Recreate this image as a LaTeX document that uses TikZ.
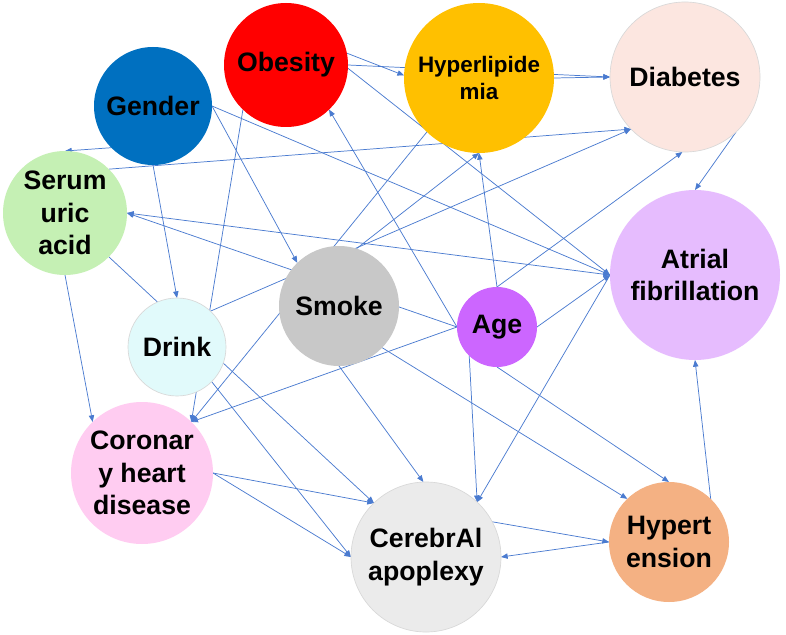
\documentclass[tikz,border=0pt]{standalone}
\usepackage{fontspec}
\setmainfont{Liberation Sans}
\usetikzlibrary{arrows.meta,backgrounds}
\definecolor{edgec}{HTML}{4A7BD0}
\definecolor{cObesity}{HTML}{FF0000}
\definecolor{cHyper}{HTML}{FFC000}
\definecolor{cDiab}{HTML}{FCE6E0}
\definecolor{cGender}{HTML}{0070C0}
\definecolor{cSerum}{HTML}{C5F0B4}
\definecolor{cAtrial}{HTML}{E6BCFE}
\definecolor{cSmoke}{HTML}{C8C8C8}
\definecolor{cAge}{HTML}{CC66FF}
\definecolor{cDrink}{HTML}{E1FAFB}
\definecolor{cCoronary}{HTML}{FFCCF1}
\definecolor{cCerebral}{HTML}{EBEBEB}
\definecolor{cHypert}{HTML}{F4B183}
\definecolor{rimc}{HTML}{D8D8D8}
\begin{document}
\begin{tikzpicture}[x=0.75pt,y=-0.75pt,
  ball/.style={circle,inner sep=0pt,outer sep=0pt,draw=none},
  rim/.style={draw=rimc,line width=0.5pt},
  lab/.style={align=center,text=black,inner sep=0pt,font=\bfseries\fontsize{20}{24.5}\selectfont},
  smalllab/.style={align=center,text=black,inner sep=0pt,font=\bfseries\fontsize{16.8}{20.5}\selectfont},
  arr/.style={draw=edgec,line width=0.55pt,-{Triangle[length=5pt,width=4pt]}},
  arrtwo/.style={draw=edgec,line width=0.55pt,{Triangle[length=5pt,width=4pt]}-{Triangle[length=5pt,width=4pt]}}
  ]
\useasboundingbox (0,0) rectangle (786,635);

% circles
\node[ball,fill=cObesity,minimum size=93pt] (obesity) at (286,65) {};
\node[ball,fill=cHyper,minimum size=112.5pt] (hyper) at (479,78) {};
\node[ball,fill=cDiab,rim,minimum size=112.5pt] (diab) at (685,77) {};
\node[ball,fill=cGender,minimum size=88.5pt] (gender) at (153,106) {};
\node[ball,fill=cSerum,minimum size=93pt] (serum) at (65,213) {};
\node[ball,fill=cAtrial,minimum size=127.5pt] (atrial) at (695,275) {};
\node[ball,fill=cSmoke,minimum size=90pt] (smoke) at (339,306) {};
\node[ball,fill=cAge,minimum size=60pt] (age) at (497,327) {};
\node[ball,fill=cDrink,rim,minimum size=73.5pt] (drink) at (177,347) {};
\node[ball,fill=cCoronary,minimum size=106.5pt] (coronary) at (142,473) {};
\node[ball,fill=cCerebral,rim,minimum size=112.5pt] (cerebral) at (426,557) {};
\node[ball,fill=cHypert,minimum size=90pt] (hypert) at (669,542) {};

% labels
\node[lab] (obesityT) at (obesity) {Obesity};
\node[smalllab] (hyperT) at (hyper) {Hyperlipide\\mia};
\node[lab] (diabT) at (diab) {Diabetes};
\node[lab] (genderT) at (gender) {Gender};
\node[lab] (serumT) at (serum) {Serum\\uric\\acid};
\node[lab] (atrialT) at (atrial) {Atrial\\fibrillation};
\node[lab] (smokeT) at (smoke) {Smoke};
\node[lab] (ageT) at (age) {Age};
\node[lab] (drinkT) at (drink) {Drink};
\node[lab] (coronaryT) at (coronary) {Coronar\\y heart\\disease};
\node[lab] (cerebralT) at (cerebral) {CerebrAl\\apoplexy};
\node[lab] (hypertT) at (hypert) {Hypert\\ension};

\begin{pgfonlayer}{background}
\fill[white] (0,0) rectangle (786,635);
\draw[arr] (gender.225) -- (serum.north);
\draw[arr] (gender.south) -- (drink.north);
\draw[arr] (gender.east) -- (smoke.134);
\draw[arr] (gender.east) -- (atrial.west);
\draw[arr] (obesity.11) -- (hyper.178);
\draw[arr] (obesity.0) -- (diab.west);
\draw[arr] (hyper.east) -- (diab.west);
\draw[arr] (obesity.-3) -- (atrial.west);
\draw[arr] (obesity.226) -- (coronary.46);
\draw[arr] (serum.45) -- (diab.224);
\draw[arrtwo] (serum.east) -- (atrial.west);
\draw[arr] (age.west) -- (serum.east);
\draw[arr] (serum.south) -- (coronary.134);
\draw[arr] (serum.315) -- (cerebral.134);
\draw[arr] (drink.47) -- (diab.224);
\draw[arr] (drink.315) -- (cerebral.west);
\draw[arr] (hyper.226) -- (coronary.46);
\draw[arr] (smoke.73) -- (hyper.south);
\draw[arr] (age.north) -- (hyper.south);
\draw[arr] (age.north) -- (diab.268);
\draw[arr] (age.east) -- (atrial.west);
\draw[arr] (age.west) -- (obesity.314);
\draw[arr] (age.west) -- (coronary.46);
\draw[arr] (age.226) -- (cerebral.47);
\draw[arr] (age.south) -- (hypert.north);
\draw[arr] (smoke.south) -- (cerebral.92);
\draw[arr] (smoke.316) -- (hypert.134);
\draw[arr] (atrial.west) -- (cerebral.47);
\draw[arr] (diab.313) -- (atrial.north);
\draw[arr] (hypert.46) -- (atrial.south);
\draw[arr] (cerebral.28) -- (hypert.west);
\draw[arr] (hypert.west) -- (cerebral.east);
\draw[arr] (coronary.east) -- (cerebral.134);
\draw[arr] (coronary.east) -- (cerebral.west);
\end{pgfonlayer}
\end{tikzpicture}
\end{document}
